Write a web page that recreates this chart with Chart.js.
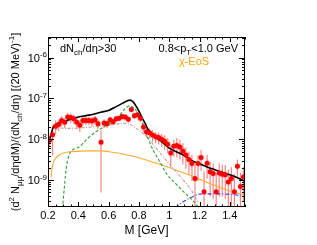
<!DOCTYPE html>
<html><head><meta charset="utf-8">
<script src="https://cdn.jsdelivr.net/npm/chart.js@4/dist/chart.umd.min.js"></script>
<style>html,body{margin:0;padding:0;background:#fff}#wrap{width:317px;height:245px}</style>
</head><body><div id="wrap"><canvas id="c" width="317" height="245"></canvas></div>
<script>
// ---- data ----
const massBins = [0.21,0.23,0.25,0.27,0.29,0.31,0.33,0.35,0.37,0.39,0.41,0.43,0.45,0.47,0.49,0.51,0.53,0.55,0.57,0.59,0.61,0.63,0.65,0.67,0.69,0.71,0.73,0.75,0.77,0.79,0.81,0.83,0.85,0.87,0.89,0.91,0.93,0.95,0.97,0.99,1.01,1.03,1.05,1.07,1.09,1.11,1.13,1.15,1.17,1.19,1.21,1.23,1.25,1.27,1.29,1.31,1.33,1.35,1.37,1.39,1.41,1.43,1.45,1.47,1.49];
const yieldVals = [9.5e-9,1.3e-8,2.1e-8,2.3e-8,2.9e-8,2.6e-8,3.5e-8,3.4e-8,3.2e-8,2.6e-8,2.2e-8,2.9e-8,2.9e-8,2.9e-8,2.8e-8,3.0e-8,2.4e-8,8.5e-9,2.5e-8,2.4e-8,3.0e-8,2.7e-8,3.2e-8,3.3e-8,3.6e-8,3.5e-8,3.1e-8,5.4e-8,3.8e-8,4.0e-8,3.3e-8,2.0e-8,1.5e-8,1.45e-8,1.28e-8,1.15e-8,1.1e-8,1.0e-8,9.0e-9,7.6e-9,4.6e-9,6.8e-9,7.1e-9,6.5e-9,5.2e-9,4.1e-9,3.2e-9,2.55e-9,1.1e-9,2.55e-9,3.6e-9,5.2e-10,2.6e-9,1.6e-9,1.45e-9,5.2e-10,1.5e-9,1.4e-9,1.35e-9,9.0e-10,1.1e-9,5.2e-10,2.2e-9,7.0e-10,1.2e-9];
const errStat = [3e-9,9e-9,8e-9,7e-9,8e-9,7e-9,9e-9,9e-9,8e-9,8e-9,7e-9,7e-9,7e-9,7e-9,7e-9,7e-9,6e-9,8e-9,6e-9,5e-9,5e-9,5e-9,5e-9,5e-9,5e-9,5e-9,5e-9,7e-9,6e-9,6e-9,6e-9,5e-9,4e-9,4e-9,4e-9,3.5e-9,3.5e-9,3.5e-9,3.5e-9,3e-9,2.5e-9,3e-9,3.5e-9,3.3e-9,2.8e-9,2.2e-9,1.8e-9,1.6e-9,1.3e-9,1.6e-9,1.9e-9,1.1e-9,1.5e-9,1.2e-9,1.1e-9,1.0e-9,1.1e-9,1.0e-9,1.0e-9,9e-10,1.0e-9,9e-10,1.0e-9,8e-10,9e-10];

const sumM = [0.21,0.22,0.235,0.25,0.3,0.35,0.4,0.45,0.5,0.55,0.6,0.65,0.7,0.72,0.74,0.76,0.78,0.8,0.82,0.84,0.86,0.88,0.9,0.95,1.0,1.05,1.1,1.15,1.2,1.25,1.3,1.35,1.4,1.45,1.5];
const sumY = [9.5e-9,1.3e-8,2.0e-8,2.3e-8,2.7e-8,3.1e-8,3.5e-8,3.8e-8,4.1e-8,4.6e-8,5.1e-8,6.3e-8,7.9e-8,8.7e-8,9.1e-8,8.4e-8,6.6e-8,4.9e-8,3.4e-8,2.5e-8,1.75e-8,1.4e-8,1.18e-8,8.8e-9,6.1e-9,4.9e-9,4.0e-9,3.0e-9,2.5e-9,2.1e-9,1.8e-9,1.55e-9,1.35e-9,1.15e-9,9.3e-10];

const rhoM = [0.295,0.31,0.32,0.34,0.363,0.385,0.408,0.43,0.463,0.518,0.573,0.628,0.673,0.705,0.739,0.765,0.794,0.827,0.86,0.893,0.937,0.98,1.048,1.114,1.17,1.2];
const rhoY = [2.0e-10,8e-10,1.9e-9,4.2e-9,5.5e-9,6.0e-9,6.6e-9,7.9e-9,1.06e-8,1.55e-8,2.05e-8,2.7e-8,3.9e-8,5.5e-8,6.6e-8,5.9e-8,4.3e-8,2.25e-8,1.06e-8,5.5e-9,2.85e-9,1.48e-9,7.8e-10,4.4e-10,2.75e-10,2.0e-10];

const hadM = [0.246,0.264,0.32,0.408,0.518,0.628,0.694,0.739,0.783,0.827,0.871,0.915,0.959,1.025,1.092,1.158,1.19];
const hadY = [1.6e-8,1.9e-8,1.85e-8,1.9e-8,2.05e-8,2.3e-8,2.45e-8,2.35e-8,1.85e-8,1.4e-8,9.6e-9,6.0e-9,3.8e-9,1.95e-9,1.02e-9,4.8e-10,2.75e-10];

const eosM = [0.22,0.23,0.253,0.286,0.32,0.363,0.452,0.54,0.628,0.716,0.805,0.893,0.98,1.07,1.158,1.246,1.335,1.423,1.5];
const eosY = [1.2e-9,2.3e-9,3.5e-9,4.4e-9,4.8e-9,5.0e-9,5.2e-9,5.2e-9,4.8e-9,4.2e-9,3.5e-9,2.75e-9,2.15e-9,1.62e-9,1.23e-9,8.9e-10,6.6e-10,5.1e-10,4.3e-10];

const charmM = [1.04,1.08,1.114,1.158,1.2,1.268,1.335,1.423,1.5];
const charmY = [2.1e-10,2.75e-10,3.3e-10,4.0e-10,4.55e-10,4.6e-10,4.6e-10,4.4e-10,4.0e-10];

const xTicks = [0.2,0.4,0.6,0.8,1.0,1.2,1.4];
const xTickLabels = ['0.2','0.4','0.6','0.8','1','1.2','1.4'];
const yDecades = [-9,-8,-7,-6];
const SYS_REL = 0.18, BOX_HALF = 0.014;

const FONT = '"Liberation Sans", Arial, Helvetica, sans-serif';
const toXY = (xs, ys) => xs.map((x, i) => ({x: x, y: ys[i]}));

function drawRich(ctx, segs, x, y, size, align) {
  const small = Math.round(size * 0.72);
  let w = 0;
  segs.forEach(s => { ctx.font = (s[1] ? small : size) + 'px ' + FONT; w += ctx.measureText(s[0]).width; });
  let cx = align === 'center' ? x - w / 2 : align === 'right' ? x - w : x;
  ctx.textAlign = 'left'; ctx.textBaseline = 'alphabetic';
  segs.forEach(s => {
    ctx.font = (s[1] ? small : size) + 'px ' + FONT;
    const dy = s[1] === 1 ? size * 0.28 : s[1] === 2 ? -size * 0.42 : 0;
    ctx.fillText(s[0], cx, y + dy);
    cx += ctx.measureText(s[0]).width;
  });
}

const errPlugin = {
  id: 'errs',
  beforeDatasetsDraw(chart) {
    const {ctx, chartArea: a, scales: {x, y}} = chart;
    ctx.save();
    ctx.beginPath(); ctx.rect(a.left, a.top, a.right - a.left, a.bottom - a.top); ctx.clip();
    ctx.fillStyle = 'rgba(255,160,160,0.3)';
    massBins.forEach((m, i) => {
      const v = yieldVals[i];
      const x0 = x.getPixelForValue(m - BOX_HALF), x1 = x.getPixelForValue(m + BOX_HALF);
      const yt = y.getPixelForValue(v * (1 + SYS_REL)), yb = y.getPixelForValue(v * (1 - SYS_REL));
      ctx.fillRect(x0, yt, x1 - x0, yb - yt);
    });
    ctx.strokeStyle = 'rgba(255,90,90,0.75)'; ctx.lineWidth = 1.2;
    massBins.forEach((m, i) => {
      const v = yieldVals[i], s = errStat[i];
      const px = x.getPixelForValue(m);
      const top = y.getPixelForValue(v + s);
      const bot = (v - s) > 0 ? y.getPixelForValue(v - s) : a.bottom;
      ctx.beginPath(); ctx.moveTo(px, top); ctx.lineTo(px, bot); ctx.stroke();
    });
    ctx.restore();
  }
};

const framePlugin = {
  id: 'frame',
  afterDraw(chart) {
    const {ctx, chartArea: a, scales: {x, y}} = chart;
    ctx.save();
    ctx.strokeStyle = '#000'; ctx.lineWidth = 1;
    ctx.strokeRect(a.left + 0.5, a.top + 0.5, a.right - a.left - 1, a.bottom - a.top - 1);
    ctx.beginPath();
    for (let i = 20; i <= 150; i += 5) {
      const px = Math.round(x.getPixelForValue(i / 100)) + 0.5;
      const len = (i % 20 === 0) ? 5 : 2.5;
      ctx.moveTo(px, a.bottom); ctx.lineTo(px, a.bottom - len);
      ctx.moveTo(px, a.top); ctx.lineTo(px, a.top + len);
    }
    for (let d = -10; d <= -5; d++) {
      for (let k = 1; k <= 9; k++) {
        const v = k * Math.pow(10, d);
        if (v < y.min || v > y.max) continue;
        const py = Math.round(y.getPixelForValue(v)) + 0.5;
        const len = k === 1 ? 6 : 3;
        ctx.moveTo(a.left, py); ctx.lineTo(a.left + len, py);
        ctx.moveTo(a.right, py); ctx.lineTo(a.right - len, py);
      }
    }
    ctx.stroke();
    ctx.fillStyle = '#000';
    ctx.font = '11px ' + FONT; ctx.textAlign = 'center'; ctx.textBaseline = 'alphabetic';
    xTicks.forEach((t, i) => ctx.fillText(xTickLabels[i], x.getPixelForValue(t), a.bottom + 12));
    yDecades.forEach(d => {
      const py = y.getPixelForValue(Math.pow(10, d));
      ctx.font = '8px ' + FONT; ctx.textAlign = 'right';
      const sup = String(d);
      const sw = ctx.measureText(sup).width;
      ctx.fillText(sup, a.left - 1, py - 0.5);
      ctx.font = '11px ' + FONT;
      ctx.fillText('10', a.left - 1 - sw, py + 4);
    });
    drawRich(ctx, [['M [GeV]', 0]], (a.left + a.right) / 2, a.bottom + 27, 12, 'center');
    ctx.save();
    ctx.translate(19, (a.top + a.bottom) / 2);
    ctx.rotate(-Math.PI / 2);
    drawRich(ctx, [['(d', 0], ['2', 2], [' N', 0], ['\u03bc\u03bc', 1], ['/d\u03b7dM)/(dN', 0], ['ch', 1], ['/d\u03b7) [(20 MeV)', 0], ['-1', 2], [']', 0]], 0, 0, 11, 'center');
    ctx.restore();
    drawRich(ctx, [['dN', 0], ['ch', 1], ['/d\u03b7>30', 0]], 60, 52, 11, 'left');
    drawRich(ctx, [['0.8<p', 0], ['T', 1], ['<1.0 GeV', 0]], 238, 52, 11, 'right');
    ctx.fillStyle = '#ffa500';
    drawRich(ctx, [['\u03c7-EoS', 0]], 194, 65, 11, 'center');
    ctx.restore();
  }
};

const line = (xs, ys, color, width, dash, order) => ({
  data: toXY(xs, ys), showLine: true, borderColor: color, borderWidth: width,
  borderDash: dash, pointRadius: 0, cubicInterpolationMode: 'monotone', order: order, fill: false
});

new Chart(document.getElementById('c').getContext('2d'), {
  type: 'scatter',
  data: {
    datasets: [
      {data: toXY(massBins, yieldVals), pointRadius: 2.5, pointBackgroundColor: '#ff0000', pointBorderWidth: 0, showLine: false, order: 0},
      line(sumM, sumY, '#000000', 1.6, [], 1),
      line(rhoM, rhoY, '#2e9e2e', 1.1, [3, 2], 2),
      line(hadM, hadY, '#c49a9a', 1.1, [3, 1.5, 1, 1.5], 3),
      line(eosM, eosY, '#ffaa33', 1.1, [], 4),
      line(charmM, charmY, '#3a3aee', 1.1, [4, 2, 1, 2], 5)
    ]
  },
  options: {
    responsive: false, animation: false, devicePixelRatio: 1,
    layout: {padding: {left: 48, right: 72, top: 37, bottom: 38}},
    plugins: {legend: {display: false}, tooltip: {enabled: false}},
    scales: {
      x: {type: 'linear', min: 0.2, max: 1.5, display: false},
      y: {type: 'logarithmic', min: 2.2e-10, max: 3.2e-6, display: false}
    }
  },
  plugins: [errPlugin, framePlugin]
});
</script></body></html>
